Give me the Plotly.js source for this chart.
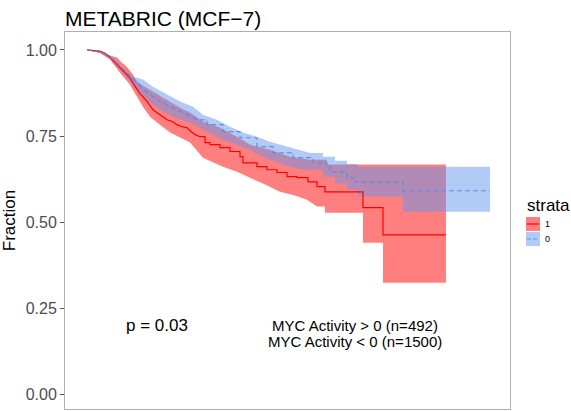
<!DOCTYPE html>
<html>
<head>
<meta charset="utf-8">
<script src="https://cdn.plot.ly/plotly-3.0.1.min.js"></script>
<style>html,body{margin:0;padding:0;background:#fff;}#chart{width:571px;height:411px;}</style>
</head>
<body>
<div id="chart"></div>
<script>
// ---- Data (time in months, survival fraction) ----
// strata 1 : MYC Activity > 0
const red_t   = [0, 11.3, 15.6, 20.0, 24.3, 28.7, 33.0, 37.3, 40.8, 43.4, 46.0, 48.6, 53.0, 57.3, 60.8, 63.4, 69.5, 73.8, 78.2, 82.5, 86.9, 90.3, 93.8, 98.1, 102.5, 106.8, 115.5, 124.2, 132.9, 135.5, 147.6, 156.3, 165.0, 173.7, 182.4, 191.9, 199.8, 206.7, 239.7, 257.1];
const red_s   = [1.0, 0.996, 0.990, 0.978, 0.963, 0.949, 0.934, 0.919, 0.899, 0.885, 0.873, 0.864, 0.847, 0.826, 0.818, 0.812, 0.797, 0.792, 0.783, 0.777, 0.774, 0.763, 0.754, 0.748, 0.731, 0.725, 0.716, 0.705, 0.690, 0.672, 0.661, 0.652, 0.644, 0.632, 0.629, 0.617, 0.603, 0.588, 0.542, 0.463];
const red_end = 311.8;
const redUp_t = [0, 13.9, 20.0, 26.1, 30.4, 34.7, 40.0, 43.4, 48.6, 57.3, 69.5, 80.8, 89.5, 100.7, 115.5, 130.3, 141.6, 158.9, 176.3, 193.7, 208.4];
const redUp_s = [1.0, 0.992, 0.983, 0.978, 0.963, 0.951, 0.928, 0.908, 0.896, 0.879, 0.856, 0.832, 0.818, 0.792, 0.774, 0.748, 0.725, 0.710, 0.690, 0.681, 0.667];
const redLo_t = [0, 11.3, 20.0, 28.7, 37.3, 43.4, 48.6, 54.7, 63.4, 72.1, 80.8, 89.5, 100.7, 118.1, 130.3, 141.6, 154.6, 167.6, 180.6, 191.1, 199.8, 206.7, 239.7, 257.1];
const redLo_s = [1.0, 0.990, 0.972, 0.934, 0.899, 0.864, 0.835, 0.806, 0.783, 0.760, 0.745, 0.731, 0.687, 0.661, 0.646, 0.629, 0.609, 0.588, 0.577, 0.565, 0.545, 0.527, 0.440, 0.324];

// strata 0 : MYC Activity < 0
const blue_t   = [0, 11.3, 22.6, 28.7, 34.7, 43.4, 52.1, 63.4, 74.7, 86.9, 96.4, 104.2, 118.1, 132.9, 147.6, 161.5, 178.9, 196.3, 208.4, 211.0, 225.8, 232.8, 274.4];
const blue_s   = [1.0, 0.997, 0.972, 0.954, 0.934, 0.905, 0.876, 0.850, 0.832, 0.812, 0.797, 0.783, 0.763, 0.745, 0.719, 0.701, 0.687, 0.672, 0.661, 0.646, 0.629, 0.617, 0.591];
const blue_end = 350.0;
const blueUp_t = [0, 13.0, 22.6, 31.3, 40.0, 48.6, 57.3, 69.5, 80.8, 92.1, 100.7, 112.9, 124.2, 135.5, 147.6, 158.9, 170.2, 182.4, 193.7, 205.0, 215.4, 225.8, 234.5];
const blueUp_s = [1.0, 0.997, 0.980, 0.945, 0.922, 0.914, 0.893, 0.870, 0.850, 0.835, 0.812, 0.797, 0.777, 0.760, 0.748, 0.733, 0.722, 0.710, 0.701, 0.690, 0.678, 0.669, 0.661];
const blueLo_t = [0, 13.0, 20.0, 28.7, 34.7, 43.4, 52.1, 63.4, 74.7, 89.5, 104.2, 118.1, 135.5, 152.9, 170.2, 187.6, 205.0, 215.4, 225.8, 234.5, 274.4];
const blueLo_s = [1.0, 0.990, 0.978, 0.943, 0.919, 0.885, 0.856, 0.826, 0.806, 0.789, 0.763, 0.739, 0.719, 0.690, 0.667, 0.652, 0.632, 0.612, 0.594, 0.574, 0.530];

const yTicks = [0, 0.25, 0.5, 0.75, 1.0];
const yTickText = ["0.00", "0.25", "0.50", "0.75", "1.00"];
const strataLabels = ["1", "0"];
const titleText = "METABRIC (MCF\u22127)";
const pText = "p = 0.03";
const nText = ["MYC Activity > 0 (n=492)", "MYC Activity < 0 (n=1500)"];

// ---- helpers ----
// dense early part (many tiny steps) is drawn smooth; later part is stepped
function stepPath(t, s, tEnd, smoothUntil) {
  const xs = [], ys = [];
  for (let i = 0; i < t.length; i++) {
    const nx = (i + 1 < t.length) ? t[i + 1] : tEnd;
    xs.push(t[i]); ys.push(s[i]);
    if (nx > smoothUntil || i + 1 >= t.length) { xs.push(nx); ys.push(s[i]); }
  }
  return {x: xs, y: ys};
}
function band(tu, su, tl, sl, tEnd, smoothUntil) {
  const u = stepPath(tu, su, tEnd, smoothUntil), l = stepPath(tl, sl, tEnd, smoothUntil);
  return {x: u.x.concat(l.x.slice().reverse()), y: u.y.concat(l.y.slice().reverse())};
}

const RED = "#FF0000", RED_F = "rgba(255,0,0,0.5)";
const BLUE = "#6495ED", BLUE_F = "rgba(100,149,237,0.5)";

const rb = band(redUp_t, redUp_s, redLo_t, redLo_s, red_end, 200);
const bb = band(blueUp_t, blueUp_s, blueLo_t, blueLo_s, blue_end, 200);
const rl = stepPath(red_t, red_s, red_end, 100);
const bl = stepPath(blue_t, blue_s, blue_end, 100);

const traces = [
  {x: rb.x, y: rb.y, mode: "lines", fill: "toself", fillcolor: RED_F, line: {width: 0}, hoverinfo: "skip", showlegend: false},
  {x: bb.x, y: bb.y, mode: "lines", fill: "toself", fillcolor: BLUE_F, line: {width: 0}, hoverinfo: "skip", showlegend: false},
  {x: rl.x, y: rl.y, mode: "lines", line: {color: RED, width: 1.2}, showlegend: false},
  {x: bl.x, y: bl.y, mode: "lines", line: {color: "#5d87e0", width: 1.2, dash: "5px,3px"}, opacity: 0.9, showlegend: false}
];

// panel geometry in pixels
const W = 571, H = 411, L = 65, R = 510, T = 32, B = 409;
const px2x = p => (p - L) / (R - L);
const py2y = p => (B - p) / (B - T);

const font = "Liberation Sans, Arial, Helvetica, sans-serif";
const annotations = [
  {xref: "x", yref: "y", x: 61, y: 0.20, text: pText, showarrow: false, font: {family: font, size: 17, color: "#000"}},
  {xref: "x", yref: "y", x: 233, y: 0.20, text: nText[0], showarrow: false, font: {family: font, size: 15, color: "#000"}},
  {xref: "x", yref: "y", x: 233, y: 0.153, text: nText[1], showarrow: false, font: {family: font, size: 15, color: "#000"}},
  {xref: "paper", yref: "paper", x: px2x(525), y: py2y(205), xanchor: "left", yanchor: "middle", text: "strata", showarrow: false, font: {family: font, size: 17, color: "#000"}},
  {xref: "paper", yref: "paper", x: px2x(543), y: py2y(224), xanchor: "left", yanchor: "middle", text: strataLabels[0], showarrow: false, font: {family: font, size: 9, color: "#000"}},
  {xref: "paper", yref: "paper", x: px2x(543), y: py2y(239), xanchor: "left", yanchor: "middle", text: strataLabels[1], showarrow: false, font: {family: font, size: 9, color: "#000"}}
];
const shapes = [
  {type: "rect", xref: "paper", yref: "paper", x0: px2x(526), x1: px2x(540), y0: py2y(217), y1: py2y(231), fillcolor: RED_F, line: {width: 0}},
  {type: "line", xref: "paper", yref: "paper", x0: px2x(527), x1: px2x(539), y0: py2y(224), y1: py2y(224), line: {color: RED, width: 1.2}},
  {type: "rect", xref: "paper", yref: "paper", x0: px2x(526), x1: px2x(540), y0: py2y(232), y1: py2y(246), fillcolor: BLUE_F, line: {width: 0}},
  {type: "line", xref: "paper", yref: "paper", x0: px2x(527), x1: px2x(539), y0: py2y(239), y1: py2y(239), line: {color: BLUE, width: 1.2, dash: "4px,2px"}}
];

const layout = {
  width: W, height: H,
  margin: {l: L, r: W - R, t: T, b: H - B, pad: 0},
  paper_bgcolor: "#fff", plot_bgcolor: "#fff",
  showlegend: false,
  title: {text: titleText, x: L / W, xanchor: "left", y: 1 - 19 / H, yanchor: "middle", font: {family: font, size: 21, color: "#000"}},
  xaxis: {range: [-19.1, 367.4], showgrid: false, zeroline: false, showticklabels: false, ticks: "",
          showline: true, mirror: true, linecolor: "#b0b0b0", linewidth: 1},
  yaxis: {range: [-0.0427, 1.052], tickvals: yTicks, ticktext: yTickText, ticks: "outside", ticklen: 4, tickwidth: 1, tickcolor: "#555",
          showgrid: false, zeroline: false, showline: true, mirror: true, linecolor: "#b0b0b0", linewidth: 1,
          tickfont: {family: font, size: 16, color: "#4D4D4D"},
          title: {text: "Fraction", font: {family: font, size: 17, color: "#000"}, standoff: 8}},
  annotations: annotations,
  shapes: shapes
};

Plotly.newPlot("chart", traces, layout, {displayModeBar: false, staticPlot: true});
</script>
</body>
</html>
